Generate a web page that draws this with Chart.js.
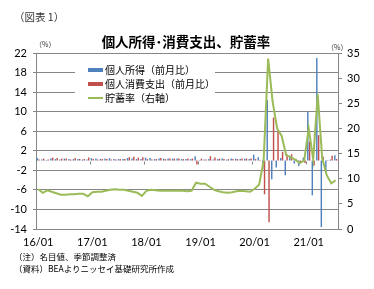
<!DOCTYPE html>
<html>
<head>
<meta charset="utf-8">
<script src="https://cdn.jsdelivr.net/npm/chart.js@4/dist/chart.umd.min.js"></script>
<style>
  body { margin: 0; background: #fff; }
  #wrap { position: relative; width: 374px; height: 289px; font-family: "Noto Sans CJK JP", sans-serif; color: #000; }
  #chart { position: absolute; left: 0; top: 0; }
  .txt { position: absolute; white-space: nowrap; line-height: 1; }
  #legend { position: absolute; left: 75px; top: 65px; width: 140px; height: 44px; background: #fff; }
  .item { position: absolute; left: 13px; height: 12px; font-size: 10px; line-height: 12px; }
  .mark { position: absolute; left: 0; width: 15px; }
  .item span { position: absolute; left: 17px; top: 0; white-space: nowrap; }
</style>
</head>
<body>
<div id="wrap">
  <canvas id="chart" width="374" height="289"></canvas>
  <div class="txt" style="left:14px;top:12px;font-size:10.5px;color:#333;">（図表 1）</div>
  <div class="txt" style="left:0;width:372px;text-align:center;top:35px;font-size:13.5px;font-weight:bold;">個人所得･消費支出、貯蓄率</div>
  <div class="txt" style="left:35px;top:41px;font-size:7px;color:#333;">（%）</div>
  <div class="txt" style="left:327px;top:44px;font-size:7px;color:#333;">（%）</div>
  <div id="legend"></div>
  <div class="txt" style="left:14px;top:252px;font-size:8.5px;">（注）名目値、季節調整済</div>
  <div class="txt" style="left:14px;top:264px;font-size:8.5px;">（資料）BEAよりニッセイ基礎研究所作成</div>
</div>
<script>
// categories (monthly)
var months = [
  '16/01','16/02','16/03','16/04','16/05','16/06','16/07','16/08','16/09','16/10','16/11','16/12',
  '17/01','17/02','17/03','17/04','17/05','17/06','17/07','17/08','17/09','17/10','17/11','17/12',
  '18/01','18/02','18/03','18/04','18/05','18/06','18/07','18/08','18/09','18/10','18/11','18/12',
  '19/01','19/02','19/03','19/04','19/05','19/06','19/07','19/08','19/09','19/10','19/11','19/12',
  '20/01','20/02','20/03','20/04','20/05','20/06','20/07','20/08','20/09','20/10','20/11','20/12',
  '21/01','21/02','21/03','21/04','21/05','21/06','21/07'
];

var seriesNames = ['個人所得（前月比）', '個人消費支出（前月比）', '貯蓄率（右軸）'];

// personal income, % m/m
var incomeChange = [
  0.5, 0.2, 0.1, 0.4, 0.3, 0.2, 0.4, 0.3, 0.3, 0.3, 0.2, 0.2,
  0.5, 0.4, 0.3, 0.4, 0.5, 0.3, 0.3, 0.3, 0.5, 0.4, 0.3, 0.3,
  0.6, 0.5, 0.3, 0.4, 0.4, 0.4, 0.4, 0.4, 0.3, 0.3, 0.3, 0.9,
  0.1, 0.2, 0.3, 0.2, 0.3, 0.4, 0.2, 0.4, 0.4, 0.3, 0.4, 0.3,
  1.2, 0.7, -1.8, 12.4, -3.8, -1.4, 0.5, -3.0, 0.7, -0.6, -1.1, 0.6,
  10.0, -7.1, 21.0, -13.6, -2.6, 0.2, 1.1
];

// personal consumption expenditures, % m/m
var spendingChange = [
  0.2, 0.4, 0.2, 0.6, 0.5, 0.4, 0.4, 0.2, 0.5, 0.3, 0.3, 0.6,
  0.3, 0.2, 0.3, 0.3, 0.2, 0.2, 0.3, 0.3, 0.7, 0.8, 0.6, 0.7,
  0.3, 0.2, 0.3, 0.5, 0.3, 0.4, 0.4, 0.4, 0.3, 0.4, 0.4, -0.8,
  0.4, 0.2, 0.9, 0.6, 0.4, 0.3, 0.3, 0.3, 0.3, 0.4, 0.4, 0.4,
  0.3, 0.1, -6.9, -12.6, 8.8, 6.1, 1.8, 1.2, 1.3, 0.3, -0.5, -0.5,
  3.9, -1.0, 5.2, 0.8, 0.1, 1.0, 0.3
];

// saving rate, % (right axis)
var savingRate = [
  7.9, 7.2, 7.7, 7.4, 7.1, 6.8, 6.8, 6.9, 6.9, 7.0, 7.0, 6.5,
  7.3, 7.4, 7.4, 7.6, 7.8, 7.9, 7.8, 7.8, 7.6, 7.4, 7.2, 6.6,
  7.6, 7.8, 7.7, 7.6, 7.6, 7.6, 7.6, 7.6, 7.6, 7.5, 7.6, 9.2,
  9.0, 9.0, 8.4, 7.8, 7.5, 7.3, 7.2, 7.3, 7.5, 7.6, 7.5, 7.4,
  8.0, 8.8, 13.5, 33.9, 25.3, 20.0, 18.5, 14.7, 14.3, 13.8, 13.1, 13.6,
  20.0, 13.9, 26.8, 14.0, 10.7, 9.1, 9.7
];

var colors = ['#4F81BD', '#C0504D', '#9BBB59'];
var gridColor = '#868686';

// tick marks on the zero line at each year boundary
var zeroAxisTicks = {
  id: 'zeroAxisTicks',
  afterDatasetsDraw: function(chart) {
    var xs = chart.scales.x, ys = chart.scales.y;
    var ctx = chart.ctx;
    var y0 = Math.round(ys.getPixelForValue(0)) + 0.5;
    var half = (xs.getPixelForValue(1) - xs.getPixelForValue(0)) / 2;
    ctx.save();
    ctx.strokeStyle = gridColor;
    ctx.lineWidth = 1;
    ctx.beginPath();
    for (var i = 12; i < months.length; i += 12) {
      var x = Math.round(xs.getPixelForValue(i) - half) + 0.5;
      ctx.moveTo(x, y0);
      ctx.lineTo(x, y0 + 3);
    }
    ctx.stroke();
    ctx.restore();
  }
};

var ctx = document.getElementById('chart').getContext('2d');
var chart = new Chart(ctx, {
  type: 'bar',
  data: {
    labels: months,
    datasets: [
      { type: 'bar', label: seriesNames[0], data: incomeChange, backgroundColor: colors[0], yAxisID: 'y', order: 2,
        categoryPercentage: 0.8, barPercentage: 0.8 },
      { type: 'bar', label: seriesNames[1], data: spendingChange, backgroundColor: colors[1], yAxisID: 'y', order: 2,
        categoryPercentage: 0.8, barPercentage: 0.8 },
      { type: 'line', label: seriesNames[2], data: savingRate, borderColor: colors[2], borderWidth: 2,
        pointRadius: 0, tension: 0, yAxisID: 'y1', order: 1 }
    ]
  },
  options: {
    responsive: false,
    animation: false,
    layout: { padding: { top: 53, left: 0, right: 0, bottom: 0 } },
    plugins: { legend: { display: false }, title: { display: false }, tooltip: { enabled: false } },
    scales: {
      x: {
        grid: { display: false, drawTicks: false },
        border: { display: false },
        ticks: {
          autoSkip: false, maxRotation: 0, padding: 7, color: '#000',
          font: { family: 'Lato', size: 11 },
          callback: function(v) {
            var l = this.getLabelForValue(v);
            return l.slice(3) === '01' ? l : '';
          }
        },
        afterFit: function(s) { s.height = 60; }
      },
      y: {
        position: 'left', min: -14, max: 22,
        ticks: { stepSize: 2, padding: 6, color: '#000', font: { family: 'Lato', size: 11 } },
        grid: { color: gridColor, tickLength: 3 },
        border: { color: gridColor },
        afterFit: function(s) { s.width = 36; }
      },
      y1: {
        position: 'right', min: 0, max: 35,
        ticks: { stepSize: 5, padding: 5, color: '#000', font: { family: 'Lato', size: 11 } },
        grid: { drawOnChartArea: false, color: gridColor, tickLength: 4 },
        border: { color: gridColor },
        afterFit: function(s) { s.width = 36; }
      }
    }
  },
  plugins: [zeroAxisTicks]
});

// legend box drawn over the grid, as in the original
var legend = document.getElementById('legend');
for (var i = 0; i < seriesNames.length; i++) {
  var item = document.createElement('div');
  item.className = 'item';
  item.style.top = (i * 14 - 1) + 'px';
  var mark = document.createElement('div');
  mark.className = 'mark';
  if (i < 2) {
    mark.style.top = '4px';
    mark.style.height = '4px';
  } else {
    mark.style.top = '5px';
    mark.style.height = '2px';
  }
  mark.style.background = colors[i];
  var text = document.createElement('span');
  text.textContent = seriesNames[i];
  item.appendChild(mark);
  item.appendChild(text);
  legend.appendChild(item);
}
</script>
</body>
</html>
